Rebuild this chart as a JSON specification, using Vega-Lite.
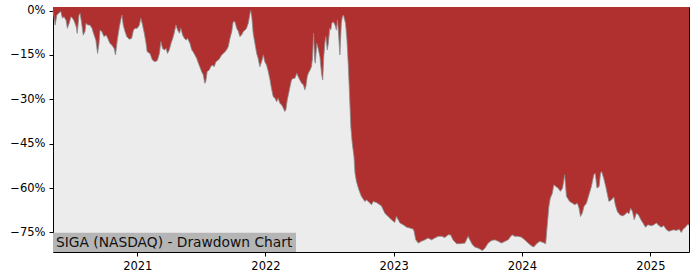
{
  "$schema": "https://vega.github.io/schema/vega-lite/v6.json",
  "width": 636,
  "height": 245,
  "autosize": "none",
  "padding": {"left": 53, "top": 7, "right": 11, "bottom": 28},
  "background": "white",
  "config": {
    "view": {"stroke": "#000000", "strokeWidth": 1, "fill": "#ececec"},
    "axis": {
      "labelFont": "DejaVu Sans",
      "labelFontSize": 11.5,
      "labelColor": "#000000",
      "tickColor": "#000000",
      "tickSize": 4,
      "grid": false,
      "domain": false,
      "title": null
    }
  },
  "data": {"values": [
    {"date":"2020-05-06","drawdown":0},
    {"date":"2020-05-12","drawdown":-4.9},
    {"date":"2020-05-17","drawdown":-1.5},
    {"date":"2020-05-24","drawdown":-0.7},
    {"date":"2020-05-28","drawdown":-0.3},
    {"date":"2020-06-02","drawdown":-2.6},
    {"date":"2020-06-06","drawdown":-2.1},
    {"date":"2020-06-12","drawdown":-3.2},
    {"date":"2020-06-16","drawdown":-6.0},
    {"date":"2020-06-21","drawdown":-4.3},
    {"date":"2020-06-26","drawdown":-2.1},
    {"date":"2020-07-01","drawdown":-2.6},
    {"date":"2020-07-06","drawdown":-3.8},
    {"date":"2020-07-11","drawdown":-5.5},
    {"date":"2020-07-14","drawdown":-7.7},
    {"date":"2020-07-19","drawdown":-1.5},
    {"date":"2020-07-22","drawdown":-1.0},
    {"date":"2020-07-26","drawdown":-3.8},
    {"date":"2020-07-31","drawdown":-8.3},
    {"date":"2020-08-05","drawdown":-7.1},
    {"date":"2020-08-08","drawdown":-4.3},
    {"date":"2020-08-13","drawdown":-4.9},
    {"date":"2020-08-19","drawdown":-4.9},
    {"date":"2020-08-25","drawdown":-6.0},
    {"date":"2020-08-31","drawdown":-8.3},
    {"date":"2020-09-05","drawdown":-10.0},
    {"date":"2020-09-10","drawdown":-14.5},
    {"date":"2020-09-14","drawdown":-11.1},
    {"date":"2020-09-17","drawdown":-6.6},
    {"date":"2020-09-22","drawdown":-7.1},
    {"date":"2020-09-28","drawdown":-8.8},
    {"date":"2020-10-04","drawdown":-8.3},
    {"date":"2020-10-09","drawdown":-9.4},
    {"date":"2020-10-15","drawdown":-11.1},
    {"date":"2020-10-20","drawdown":-11.6},
    {"date":"2020-10-27","drawdown":-12.8},
    {"date":"2020-10-31","drawdown":-15.0},
    {"date":"2020-11-05","drawdown":-10.0},
    {"date":"2020-11-11","drawdown":-5.5},
    {"date":"2020-11-18","drawdown":-1.5},
    {"date":"2020-11-22","drawdown":-4.9},
    {"date":"2020-11-27","drawdown":-7.1},
    {"date":"2020-12-02","drawdown":-8.8},
    {"date":"2020-12-09","drawdown":-9.7},
    {"date":"2020-12-16","drawdown":-9.4},
    {"date":"2020-12-21","drawdown":-6.6},
    {"date":"2020-12-26","drawdown":-6.0},
    {"date":"2021-01-01","drawdown":-6.0},
    {"date":"2021-01-07","drawdown":-4.9},
    {"date":"2021-01-11","drawdown":-2.6},
    {"date":"2021-01-16","drawdown":-4.9},
    {"date":"2021-01-21","drawdown":-7.7},
    {"date":"2021-01-26","drawdown":-11.1},
    {"date":"2021-01-29","drawdown":-13.9},
    {"date":"2021-02-06","drawdown":-14.5},
    {"date":"2021-02-13","drawdown":-16.7},
    {"date":"2021-02-20","drawdown":-17.3},
    {"date":"2021-02-27","drawdown":-16.9},
    {"date":"2021-03-05","drawdown":-14.5},
    {"date":"2021-03-09","drawdown":-10.5},
    {"date":"2021-03-14","drawdown":-12.8},
    {"date":"2021-03-19","drawdown":-13.3},
    {"date":"2021-03-24","drawdown":-12.8},
    {"date":"2021-03-28","drawdown":-14.5},
    {"date":"2021-04-02","drawdown":-13.3},
    {"date":"2021-04-07","drawdown":-11.1},
    {"date":"2021-04-12","drawdown":-9.4},
    {"date":"2021-04-16","drawdown":-7.7},
    {"date":"2021-04-21","drawdown":-4.9},
    {"date":"2021-04-26","drawdown":-6.6},
    {"date":"2021-05-01","drawdown":-7.7},
    {"date":"2021-05-05","drawdown":-6.0},
    {"date":"2021-05-10","drawdown":-8.3},
    {"date":"2021-05-15","drawdown":-9.4},
    {"date":"2021-05-20","drawdown":-10.0},
    {"date":"2021-05-24","drawdown":-9.4},
    {"date":"2021-05-31","drawdown":-11.1},
    {"date":"2021-06-05","drawdown":-13.3},
    {"date":"2021-06-09","drawdown":-13.9},
    {"date":"2021-06-14","drawdown":-15.0},
    {"date":"2021-06-19","drawdown":-16.1},
    {"date":"2021-06-24","drawdown":-17.8},
    {"date":"2021-06-28","drawdown":-19.0},
    {"date":"2021-07-03","drawdown":-20.6},
    {"date":"2021-07-08","drawdown":-21.8},
    {"date":"2021-07-12","drawdown":-24.6},
    {"date":"2021-07-15","drawdown":-24.0},
    {"date":"2021-07-19","drawdown":-20.6},
    {"date":"2021-07-25","drawdown":-20.1},
    {"date":"2021-07-29","drawdown":-19.0},
    {"date":"2021-08-03","drawdown":-18.4},
    {"date":"2021-08-08","drawdown":-19.0},
    {"date":"2021-08-13","drawdown":-17.3},
    {"date":"2021-08-20","drawdown":-16.7},
    {"date":"2021-08-24","drawdown":-16.1},
    {"date":"2021-08-29","drawdown":-15.0},
    {"date":"2021-09-03","drawdown":-14.5},
    {"date":"2021-09-08","drawdown":-13.9},
    {"date":"2021-09-12","drawdown":-13.3},
    {"date":"2021-09-17","drawdown":-12.2},
    {"date":"2021-09-22","drawdown":-9.4},
    {"date":"2021-09-27","drawdown":-7.1},
    {"date":"2021-10-01","drawdown":-3.8},
    {"date":"2021-10-06","drawdown":-3.8},
    {"date":"2021-10-11","drawdown":-6.0},
    {"date":"2021-10-16","drawdown":-7.1},
    {"date":"2021-10-20","drawdown":-8.8},
    {"date":"2021-10-25","drawdown":-8.3},
    {"date":"2021-10-30","drawdown":-7.1},
    {"date":"2021-11-04","drawdown":-6.6},
    {"date":"2021-11-08","drawdown":-6.0},
    {"date":"2021-11-13","drawdown":-4.3},
    {"date":"2021-11-18","drawdown":-1.0},
    {"date":"2021-11-20","drawdown":0},
    {"date":"2021-11-23","drawdown":-2.1},
    {"date":"2021-11-27","drawdown":-7.7},
    {"date":"2021-12-02","drawdown":-11.1},
    {"date":"2021-12-07","drawdown":-14.5},
    {"date":"2021-12-11","drawdown":-16.1},
    {"date":"2021-12-16","drawdown":-19.0},
    {"date":"2021-12-21","drawdown":-17.3},
    {"date":"2021-12-26","drawdown":-15.0},
    {"date":"2021-12-30","drawdown":-17.3},
    {"date":"2022-01-04","drawdown":-18.4},
    {"date":"2022-01-09","drawdown":-20.6},
    {"date":"2022-01-14","drawdown":-23.5},
    {"date":"2022-01-18","drawdown":-26.3},
    {"date":"2022-01-23","drawdown":-29.1},
    {"date":"2022-01-28","drawdown":-29.6},
    {"date":"2022-02-02","drawdown":-30.8},
    {"date":"2022-02-06","drawdown":-29.6},
    {"date":"2022-02-11","drawdown":-31.3},
    {"date":"2022-02-16","drawdown":-31.9},
    {"date":"2022-02-21","drawdown":-33.0},
    {"date":"2022-02-25","drawdown":-34.1},
    {"date":"2022-02-28","drawdown":-33.6},
    {"date":"2022-03-04","drawdown":-30.2},
    {"date":"2022-03-08","drawdown":-28.0},
    {"date":"2022-03-12","drawdown":-25.7},
    {"date":"2022-03-16","drawdown":-23.5},
    {"date":"2022-03-21","drawdown":-22.9},
    {"date":"2022-03-26","drawdown":-22.9},
    {"date":"2022-03-31","drawdown":-21.2},
    {"date":"2022-04-04","drawdown":-22.3},
    {"date":"2022-04-09","drawdown":-23.5},
    {"date":"2022-04-14","drawdown":-24.6},
    {"date":"2022-04-19","drawdown":-25.1},
    {"date":"2022-04-23","drawdown":-26.8},
    {"date":"2022-04-26","drawdown":-25.7},
    {"date":"2022-04-30","drawdown":-22.3},
    {"date":"2022-05-03","drawdown":-21.2},
    {"date":"2022-05-08","drawdown":-20.1},
    {"date":"2022-05-12","drawdown":-19.0},
    {"date":"2022-05-15","drawdown":-16.1},
    {"date":"2022-05-18","drawdown":-7.7},
    {"date":"2022-05-21","drawdown":-16.7},
    {"date":"2022-05-23","drawdown":-17.8},
    {"date":"2022-05-27","drawdown":-11.1},
    {"date":"2022-05-31","drawdown":-12.8},
    {"date":"2022-06-05","drawdown":-15.6},
    {"date":"2022-06-10","drawdown":-21.8},
    {"date":"2022-06-13","drawdown":-23.5},
    {"date":"2022-06-16","drawdown":-15.6},
    {"date":"2022-06-19","drawdown":-11.1},
    {"date":"2022-06-22","drawdown":-8.8},
    {"date":"2022-06-26","drawdown":-13.3},
    {"date":"2022-06-29","drawdown":-11.1},
    {"date":"2022-07-03","drawdown":-6.0},
    {"date":"2022-07-06","drawdown":-6.6},
    {"date":"2022-07-09","drawdown":-4.3},
    {"date":"2022-07-13","drawdown":-3.8},
    {"date":"2022-07-18","drawdown":-4.9},
    {"date":"2022-07-22","drawdown":-6.6},
    {"date":"2022-07-25","drawdown":-3.2},
    {"date":"2022-07-28","drawdown":-7.7},
    {"date":"2022-08-01","drawdown":-15.0},
    {"date":"2022-08-05","drawdown":-4.3},
    {"date":"2022-08-08","drawdown":-2.1},
    {"date":"2022-08-11","drawdown":-1.5},
    {"date":"2022-08-17","drawdown":-4.3},
    {"date":"2022-08-21","drawdown":-10.0},
    {"date":"2022-08-25","drawdown":-18.9},
    {"date":"2022-08-29","drawdown":-30.2},
    {"date":"2022-09-01","drawdown":-39.2},
    {"date":"2022-09-05","drawdown":-44.8},
    {"date":"2022-09-10","drawdown":-49.3},
    {"date":"2022-09-13","drawdown":-55.0},
    {"date":"2022-09-17","drawdown":-57.8},
    {"date":"2022-09-24","drawdown":-60.6},
    {"date":"2022-10-01","drawdown":-62.8},
    {"date":"2022-10-11","drawdown":-64.5},
    {"date":"2022-10-16","drawdown":-64.0},
    {"date":"2022-10-30","drawdown":-65.6},
    {"date":"2022-11-04","drawdown":-64.5},
    {"date":"2022-11-13","drawdown":-64.9},
    {"date":"2022-11-27","drawdown":-66.0},
    {"date":"2022-12-07","drawdown":-68.5},
    {"date":"2022-12-16","drawdown":-69.6},
    {"date":"2022-12-26","drawdown":-70.7},
    {"date":"2023-01-04","drawdown":-71.6},
    {"date":"2023-01-09","drawdown":-69.6},
    {"date":"2023-01-19","drawdown":-71.8},
    {"date":"2023-01-28","drawdown":-72.4},
    {"date":"2023-02-07","drawdown":-73.2},
    {"date":"2023-02-16","drawdown":-73.5},
    {"date":"2023-02-26","drawdown":-73.9},
    {"date":"2023-02-28","drawdown":-74.6},
    {"date":"2023-03-05","drawdown":-77.5},
    {"date":"2023-03-12","drawdown":-78.6},
    {"date":"2023-03-21","drawdown":-78.0},
    {"date":"2023-03-31","drawdown":-77.5},
    {"date":"2023-04-09","drawdown":-76.9},
    {"date":"2023-04-19","drawdown":-77.5},
    {"date":"2023-04-28","drawdown":-76.9},
    {"date":"2023-05-08","drawdown":-76.3},
    {"date":"2023-05-17","drawdown":-76.3},
    {"date":"2023-05-27","drawdown":-76.7},
    {"date":"2023-06-05","drawdown":-75.8},
    {"date":"2023-06-12","drawdown":-75.8},
    {"date":"2023-06-19","drawdown":-77.5},
    {"date":"2023-06-29","drawdown":-78.8},
    {"date":"2023-07-08","drawdown":-78.8},
    {"date":"2023-07-23","drawdown":-78.6},
    {"date":"2023-08-01","drawdown":-76.3},
    {"date":"2023-08-06","drawdown":-77.5},
    {"date":"2023-08-13","drawdown":-79.1},
    {"date":"2023-08-20","drawdown":-79.9},
    {"date":"2023-08-30","drawdown":-80.3},
    {"date":"2023-09-11","drawdown":-81.1},
    {"date":"2023-09-18","drawdown":-80.3},
    {"date":"2023-09-27","drawdown":-78.6},
    {"date":"2023-10-07","drawdown":-77.7},
    {"date":"2023-10-16","drawdown":-77.5},
    {"date":"2023-10-26","drawdown":-78.0},
    {"date":"2023-11-04","drawdown":-78.6},
    {"date":"2023-11-14","drawdown":-78.0},
    {"date":"2023-11-23","drawdown":-77.5},
    {"date":"2023-12-04","drawdown":-75.8},
    {"date":"2023-12-12","drawdown":-76.3},
    {"date":"2023-12-21","drawdown":-76.3},
    {"date":"2023-12-31","drawdown":-76.6},
    {"date":"2024-01-09","drawdown":-77.5},
    {"date":"2024-01-19","drawdown":-78.6},
    {"date":"2024-01-28","drawdown":-79.5},
    {"date":"2024-02-04","drawdown":-79.9},
    {"date":"2024-02-12","drawdown":-78.8},
    {"date":"2024-02-21","drawdown":-78.0},
    {"date":"2024-03-02","drawdown":-78.4},
    {"date":"2024-03-09","drawdown":-78.8},
    {"date":"2024-03-13","drawdown":-73.0},
    {"date":"2024-03-18","drawdown":-66.2},
    {"date":"2024-03-22","drawdown":-63.4},
    {"date":"2024-03-28","drawdown":-61.7},
    {"date":"2024-04-01","drawdown":-58.9},
    {"date":"2024-04-07","drawdown":-59.5},
    {"date":"2024-04-13","drawdown":-60.0},
    {"date":"2024-04-20","drawdown":-61.1},
    {"date":"2024-04-26","drawdown":-60.0},
    {"date":"2024-05-02","drawdown":-55.5},
    {"date":"2024-05-07","drawdown":-62.8},
    {"date":"2024-05-16","drawdown":-64.5},
    {"date":"2024-05-24","drawdown":-65.1},
    {"date":"2024-05-31","drawdown":-65.6},
    {"date":"2024-06-07","drawdown":-65.1},
    {"date":"2024-06-12","drawdown":-66.8},
    {"date":"2024-06-16","drawdown":-69.6},
    {"date":"2024-06-21","drawdown":-68.5},
    {"date":"2024-06-26","drawdown":-66.2},
    {"date":"2024-07-03","drawdown":-65.1},
    {"date":"2024-07-10","drawdown":-62.3},
    {"date":"2024-07-17","drawdown":-59.5},
    {"date":"2024-07-24","drawdown":-55.5},
    {"date":"2024-07-28","drawdown":-55.0},
    {"date":"2024-08-02","drawdown":-60.0},
    {"date":"2024-08-08","drawdown":-59.5},
    {"date":"2024-08-12","drawdown":-55.0},
    {"date":"2024-08-15","drawdown":-54.4},
    {"date":"2024-08-21","drawdown":-56.6},
    {"date":"2024-08-27","drawdown":-59.5},
    {"date":"2024-09-01","drawdown":-62.3},
    {"date":"2024-09-05","drawdown":-64.5},
    {"date":"2024-09-12","drawdown":-64.0},
    {"date":"2024-09-19","drawdown":-63.0},
    {"date":"2024-09-23","drawdown":-65.6},
    {"date":"2024-09-29","drawdown":-67.9},
    {"date":"2024-10-06","drawdown":-69.0},
    {"date":"2024-10-13","drawdown":-69.4},
    {"date":"2024-10-20","drawdown":-69.0},
    {"date":"2024-10-27","drawdown":-68.2},
    {"date":"2024-11-01","drawdown":-68.7},
    {"date":"2024-11-06","drawdown":-66.8},
    {"date":"2024-11-11","drawdown":-67.9},
    {"date":"2024-11-16","drawdown":-70.7},
    {"date":"2024-11-22","drawdown":-68.5},
    {"date":"2024-11-28","drawdown":-69.0},
    {"date":"2024-12-05","drawdown":-70.7},
    {"date":"2024-12-11","drawdown":-71.8},
    {"date":"2024-12-18","drawdown":-73.2},
    {"date":"2024-12-25","drawdown":-72.4},
    {"date":"2025-01-04","drawdown":-72.7},
    {"date":"2025-01-11","drawdown":-72.4},
    {"date":"2025-01-18","drawdown":-71.8},
    {"date":"2025-01-26","drawdown":-72.7},
    {"date":"2025-02-01","drawdown":-73.2},
    {"date":"2025-02-08","drawdown":-72.7},
    {"date":"2025-02-16","drawdown":-74.1},
    {"date":"2025-02-23","drawdown":-74.6},
    {"date":"2025-03-02","drawdown":-74.3},
    {"date":"2025-03-08","drawdown":-74.1},
    {"date":"2025-03-16","drawdown":-74.3},
    {"date":"2025-03-24","drawdown":-73.9},
    {"date":"2025-03-30","drawdown":-75.0},
    {"date":"2025-04-04","drawdown":-73.9},
    {"date":"2025-04-11","drawdown":-73.2},
    {"date":"2025-04-16","drawdown":-72.4},
    {"date":"2025-04-21","drawdown":-72.4}
  ]},
  "layer": [
    {
      "mark": {"type": "area", "color": "#b03030", "interpolate": "linear"},
      "encoding": {
        "x": {"field": "date", "type": "temporal",
              "scale": {"domain": ["2020-05-06", "2025-04-21"], "nice": false},
              "axis": {"format": "%Y", "tickCount": {"interval": "year", "step": 1}, "labelPadding": 4, "labelFlush": false}},
        "y": {"field": "drawdown", "type": "quantitative",
              "scale": {"domain": [-81.6, 1.2], "nice": false, "zero": false},
              "axis": {"values": [-75, -60, -45, -30, -15, 0], "labelPadding": 4,
                       "labelExpr": "datum.value == 0 ? '0%' : '\u2212' + abs(datum.value) + '%'"}},
        "y2": {"datum": 1.2}
      }
    },
    {
      "mark": {"type": "line", "color": "#8c8c8c", "strokeWidth": 0.8, "interpolate": "linear"},
      "encoding": {
        "x": {"field": "date", "type": "temporal"},
        "y": {"field": "drawdown", "type": "quantitative"}
      }
    },
    {
      "data": {"values": [{}]},
      "mark": {"type": "rect", "color": "#b5b5b5"},
      "encoding": {
        "x": {"datum": {"year": 2020, "month": 5, "date": 6}, "type": "temporal"},
        "x2": {"datum": {"year": 2022, "month": 3, "date": 29}},
        "y": {"datum": -81.6, "type": "quantitative"},
        "y2": {"datum": -75.1}
      }
    },
    {
      "data": {"values": [{}]},
      "mark": {"type": "text", "font": "DejaVu Sans", "fontSize": 13.8, "color": "#111111", "align": "left", "baseline": "alphabetic", "dx": 3},
      "encoding": {
        "x": {"datum": {"year": 2020, "month": 5, "date": 6}, "type": "temporal"},
        "y": {"datum": -79.8, "type": "quantitative"},
        "text": {"value": "SIGA (NASDAQ) - Drawdown Chart"}
      }
    }
  ]
}
